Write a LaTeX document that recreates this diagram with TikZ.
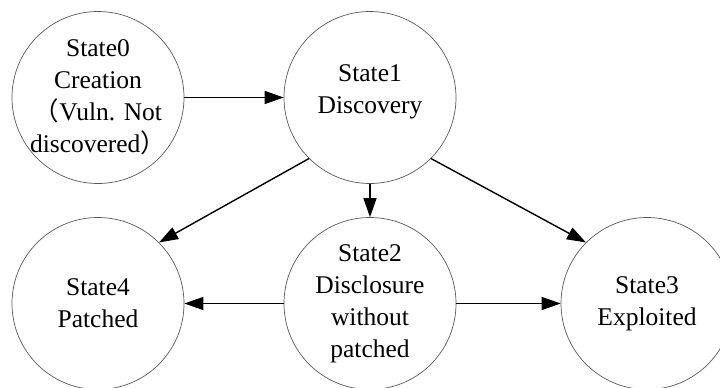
\documentclass[tikz,border=0pt]{standalone}
\usepackage{fontspec}
\setmainfont{Liberation Serif}
\newfontfamily\cjk{Noto Sans CJK SC}
\usetikzlibrary{arrows.meta}
\tikzset{
  state/.style={circle, draw=black!65, line width=0.7pt, minimum size=172pt, inner sep=0pt},
  txt/.style={align=center, font=\fontsize{25.5}{32}\selectfont, inner sep=0pt},
  flow/.style={line width=1.4pt, -{Triangle[length=19pt,width=13pt]}}
}
\begin{document}
\begin{tikzpicture}[x=1pt,y=-1pt]
\useasboundingbox (0,0) rectangle (720,388);
\node[state] (s0) at (98,97.5) {};
\node[state] (s1) at (370,97.5) {};
\node[state] (s4) at (98,303.5) {};
\node[state] (s2) at (370,303.5) {};
\node[state] (s3) at (647,303.5) {};
\node[txt] (t0) at (s0.center) {State0\\Creation\\{\cjk （}Vuln. Not\\discovered{\cjk ）}};
\node[txt] (t1) at ([yshift=6pt]s1.center) {State1\\Discovery};
\node[txt] (t4) at (s4.center) {State4\\Patched};
\node[txt] (t2) at (s2.center) {State2\\Disclosure\\without\\patched};
\node[txt] (t3) at (s3.center) {State3\\Exploited};
\draw[flow] (s0.east) -- (s1.west);
\draw[flow] (s1.-135) -- (s4.45);
\draw[flow] (s1.south) -- (s2.north);
\draw[flow] (s1.-45) -- (s3.135);
\draw[flow] (s2.west) -- (s4.east);
\draw[flow] (s2.east) -- (s3.west);
\end{tikzpicture}
\end{document}
